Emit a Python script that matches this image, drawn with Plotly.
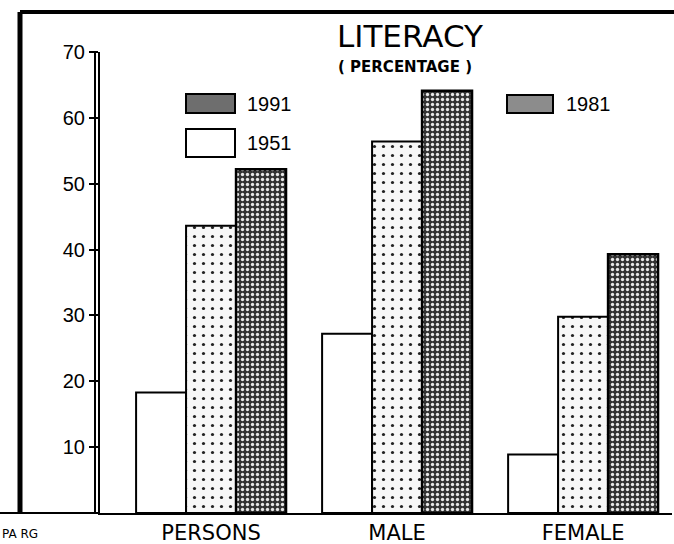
import plotly.graph_objects as go

categories = ["PERSONS", "MALE", "FEMALE"]
lit_1951 = [18.3, 27.2, 8.9]
lit_1981 = [43.6, 56.4, 29.8]
lit_1991 = [52.2, 64.1, 39.3]
y_ticks = [0, 10, 20, 30, 40, 50, 60, 70]
y_tick_labels = ["", "10", "20", "30", "40", "50", "60", "70"]

W, H = 674, 544
L, R, T, B = 100, 2, 52, 31
PW, PH = W - L - R, H - T - B


def px(x, y):
    """pixel -> paper coords"""
    return (x - L) / PW, (H - B - y) / PH


fig = go.Figure()
fig.add_trace(go.Bar(
    x=categories, y=lit_1951, name="1951",
    marker=dict(color="white", line=dict(color="black", width=2)),
))
fig.add_trace(go.Bar(
    x=categories, y=lit_1981, name="1981",
    marker=dict(color="white", line=dict(color="black", width=2),
                pattern=dict(shape=".", fgcolor="#222222", bgcolor="#f7f7f7",
                             size=9, solidity=0.1)),
))
fig.add_trace(go.Bar(
    x=categories, y=lit_1991, name="1991",
    marker=dict(color="white", line=dict(color="black", width=2.5),
                pattern=dict(shape=".", fgcolor="#e8e8e8", bgcolor="#333333",
                             size=5, solidity=0.35)),
))

shapes = []
line_k = dict(color="black", width=2)
# frame: left and top borders
x0, y0 = px(20, 12)
x1, _ = px(674, 12)
_, yb = px(20, 513)
shapes.append(dict(type="line", xref="paper", yref="paper", x0=x0, x1=x0, y0=yb, y1=y0,
                   line=dict(color="black", width=5)))
shapes.append(dict(type="line", xref="paper", yref="paper", x0=x0, x1=x1, y0=y0, y1=y0,
                   line=dict(color="black", width=4)))
# baseline continuation to the left
xa, _ = px(0, 513)
xb, _ = px(95, 513)
shapes.append(dict(type="line", xref="paper", yref="paper", x0=xa, x1=xb, y0=0, y1=0,
                   line=line_k))
# double y-axis line
xd, _ = px(95, 0)
shapes.append(dict(type="line", xref="paper", yref="y", x0=xd, x1=xd, y0=0, y1=70,
                   line=line_k))
shapes.append(dict(type="line", xref="paper", yref="y", x0=xd, x1=0, y0=70, y1=70,
                   line=line_k))

# legend swatches
def swatch(xl, yt, xr, ybt, fill):
    a, b = px(xl, yt)
    c, d = px(xr, ybt)
    shapes.append(dict(type="rect", xref="paper", yref="paper", x0=a, x1=c, y0=d, y1=b,
                       fillcolor=fill, line=dict(color="black", width=2)))

swatch(186, 94, 235, 113, "#6e6e6e")
swatch(186, 129, 235, 157, "white")
swatch(507, 95, 553, 113, "#8c8c8c")

annotations = []

def text(xp, yp, s, size, family="Liberation Sans", xanchor="left", yanchor="middle", bold=False):
    a, b = px(xp, yp)
    annotations.append(dict(xref="paper", yref="paper", x=a, y=b, text=(f"<b>{s}</b>" if bold else s),
                            showarrow=False, xanchor=xanchor, yanchor=yanchor,
                            font=dict(size=size, family=family, color="black")))

text(410, 36, "LITERACY", 31, family="DejaVu Sans", xanchor="center")
text(405, 67, "( PERCENTAGE )", 15, family="DejaVu Sans", xanchor="center", bold=True)
text(245, 104, "1991", 20)
text(245, 143, "1951", 20)
text(564, 104, "1981", 20)
text(0, 543, "PA RG", 12, family="DejaVu Sans", yanchor="bottom")

fig.update_layout(
    width=W, height=H,
    margin=dict(l=L, r=R, t=T, b=B, pad=0),
    template="none",
    paper_bgcolor="white", plot_bgcolor="white",
    barmode="group", bargap=0.194, bargroupgap=0,
    showlegend=False,
    shapes=shapes, annotations=annotations,
    xaxis=dict(range=[-0.597, 2.478], showgrid=False, zeroline=False,
               showline=True, linecolor="black", linewidth=2, ticks="",
               tickfont=dict(size=21, family="DejaVu Sans", color="black"),
               ticklabelstandoff=0, automargin=False, fixedrange=True),
    yaxis=dict(range=[0, 70], tickvals=y_ticks, ticktext=y_tick_labels,
               showgrid=False, zeroline=False, showline=True, linecolor="black",
               linewidth=2, ticks="outside", ticklen=9, tickwidth=2, tickcolor="black",
               tickfont=dict(size=20, family="Liberation Sans", color="black"),
               automargin=False, fixedrange=True),
)

fig.write_html(
    "out.html",
    config={"displayModeBar": False},
    post_script="document.body.style.margin='0';document.body.style.padding='0';"
                "document.documentElement.style.overflow='hidden';",
)
